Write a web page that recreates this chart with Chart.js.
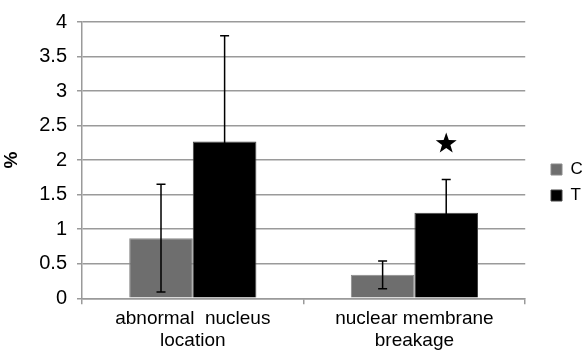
<!DOCTYPE html>
<html>
<head>
<meta charset="utf-8">
<style>
  html, body { margin: 0; padding: 0; background: #fff; }
  #wrap { width: 585px; height: 355px; }
</style>
<script src="https://cdn.jsdelivr.net/npm/chart.js@4"></script>
</head>
<body>
<div id="wrap"><canvas id="chart" width="585" height="355"></canvas></div>
<script>
// Categories and series
const categories = [["abnormal  nucleus", "location"], ["nuclear membrane", "breakage"]];
const controlValues = [0.87, 0.34];
const controlErrors = [0.78, 0.20];
const treatedValues = [2.27, 1.24];
const treatedErrors = [1.53, 0.48];
// significance star above T bar (null = none)
const starValues = [null, 2.24];
const yTicks = [0, 0.5, 1, 1.5, 2, 2.5, 3, 3.5, 4];

const FONT = "'Liberation Sans', Arial, sans-serif";

// Error bars and star drawn from the scales
const errorBarPlugin = {
  id: "errorBars",
  afterLayout(chart) {
    // legend sits further right than the library puts it
    const lg = chart.legend;
    const shift = 551 - lg.options.labels.padding - lg.left;
    lg.left += shift;
    lg.right += shift;
  },
  afterDatasetsDraw(chart) {
    const { ctx, scales } = chart;
    const errs = [controlErrors, treatedErrors];
    chart.data.datasets.forEach((ds, i) => {
      const meta = chart.getDatasetMeta(i);
      meta.data.forEach((bar, j) => {
        const v = ds.data[j];
        const e = errs[i][j];
        const yTop = scales.y.getPixelForValue(v + e);
        const yBot = scales.y.getPixelForValue(v - e);
        ctx.save();
        ctx.strokeStyle = "#000";
        ctx.lineWidth = 1.5;
        ctx.beginPath();
        ctx.moveTo(bar.x, yTop);
        ctx.lineTo(bar.x, yBot);
        ctx.moveTo(bar.x - 4.5, yTop);
        ctx.lineTo(bar.x + 4.5, yTop);
        ctx.moveTo(bar.x - 4.5, yBot);
        ctx.lineTo(bar.x + 4.5, yBot);
        ctx.stroke();
        ctx.restore();
      });
    });

    // stars
    const tMeta = chart.getDatasetMeta(1);
    starValues.forEach((s, j) => {
      if (s === null) return;
      const cx = tMeta.data[j].x;
      const cy = scales.y.getPixelForValue(s);
      const R = 11, r = 4.4;
      ctx.save();
      ctx.fillStyle = "#000";
      ctx.beginPath();
      for (let k = 0; k < 10; k++) {
        const rad = k % 2 === 0 ? R : r;
        const a = -Math.PI / 2 + k * Math.PI / 5;
        const px = cx + rad * Math.cos(a);
        const py = cy + rad * Math.sin(a);
        if (k === 0) ctx.moveTo(px, py); else ctx.lineTo(px, py);
      }
      ctx.closePath();
      ctx.fill();
      ctx.restore();
    });
  }
};

const ctx = document.getElementById("chart").getContext("2d");
const myChart = new Chart(ctx, {
  type: "bar",
  data: {
    labels: categories,
    datasets: [
      {
        label: "C",
        data: controlValues,
        backgroundColor: "#6e6e6e",
        borderColor: "#8a8a8a",
        borderWidth: 1,
        categoryPercentage: 0.574,
        barPercentage: 1
      },
      {
        label: "T",
        data: treatedValues,
        backgroundColor: "#000",
        borderColor: "#444",
        borderWidth: 1,
        categoryPercentage: 0.574,
        barPercentage: 1
      }
    ]
  },
  options: {
    responsive: false,
    animation: false,
    devicePixelRatio: 1,
    layout: { padding: { top: 10, right: 9, left: 0, bottom: 0 } },
    scales: {
      x: {
        grid: {
          offset: true,
          drawOnChartArea: false,
          color: "#9a9a9a",
          lineWidth: 1.5,
          tickLength: 6
        },
        border: { color: "#9a9a9a", width: 1.5 },
        ticks: {
          color: "#000",
          padding: 3.5,
          maxRotation: 0,
          font: { family: FONT, size: 19, lineHeight: 1.15 }
        }
      },
      y: {
        min: 0,
        max: 4,
        afterBuildTicks(axis) {
          axis.ticks = yTicks.map((v) => ({ value: v }));
        },
        afterFit(axis) {
          axis.width = 82;
        },
        grid: {
          color: "#9a9a9a",
          lineWidth: 1.5,
          tickLength: 5
        },
        border: { color: "#9a9a9a", width: 1.5 },
        ticks: {
          color: "#000",
          padding: 10,
          font: { family: FONT, size: 20 },
          callback: (v) => String(v)
        },
        title: {
          display: true,
          text: "%",
          color: "#000",
          padding: { top: 0, bottom: 2 },
          font: { family: FONT, size: 19, weight: "bold" }
        }
      }
    },
    plugins: {
      legend: {
        position: "right",
        labels: {
          color: "#000",
          boxWidth: 11,
          boxHeight: 11,
          padding: 9,
          font: { family: FONT, size: 17 }
        }
      },
      tooltip: { enabled: false }
    }
  },
  plugins: [errorBarPlugin]
});
</script>
</body>
</html>
